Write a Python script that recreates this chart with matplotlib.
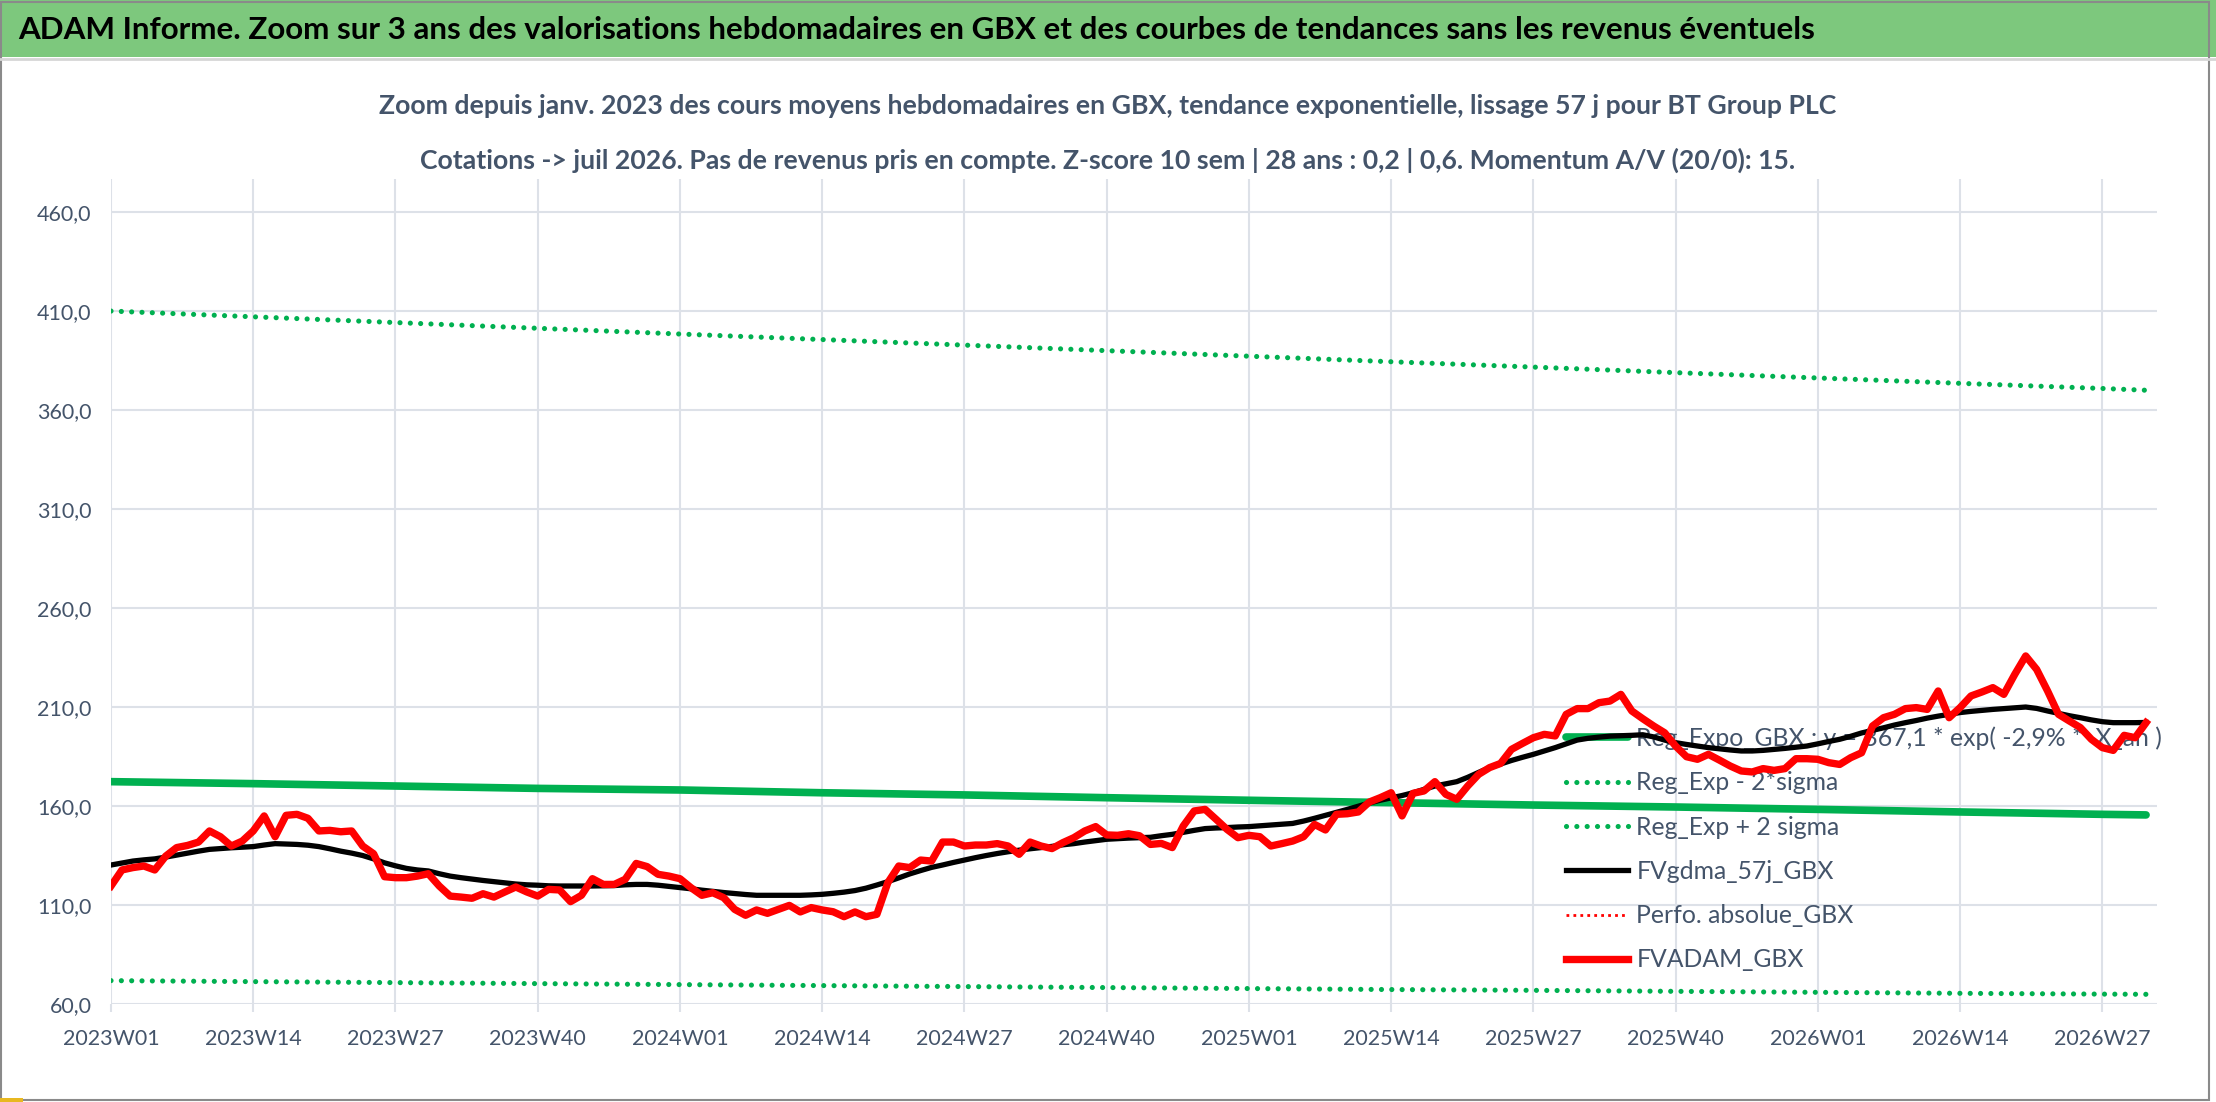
import numpy as np
from matplotlib import pyplot as plt
from matplotlib.lines import Line2D
from matplotlib.patches import Rectangle

# weekly values 2023W01 .. 2026W31
fvadam_gbx = [
    119.6, 127.7, 128.9, 129.7, 127.7, 134.7, 139.0, 140.1, 141.8, 147.4,
    144.5, 139.8, 142.3, 147.4, 155.0, 144.5, 155.3, 155.8, 153.8, 147.4,
    147.7, 147.0, 147.4, 139.8, 135.9, 124.3, 123.8, 123.8, 124.6, 125.8,
    119.6, 114.5, 114.0, 113.4, 115.7, 114.0, 116.6, 119.1, 116.6, 114.5,
    117.9, 117.6, 111.7, 114.9, 123.3, 120.4, 120.4, 123.0, 131.0, 129.4,
    125.5, 124.6, 123.3, 118.8, 114.9, 116.2, 113.7, 107.8, 104.8, 107.5,
    105.8, 107.8, 109.8, 106.5, 108.7, 107.5, 106.6, 104.1, 106.5, 104.1,
    105.3, 121.3, 129.7, 128.9, 132.7, 132.2, 141.8, 141.8, 139.8, 140.3,
    140.3, 141.0, 139.8, 135.6, 141.8, 139.8, 138.5, 141.5, 144.0, 147.4,
    149.6, 145.4, 145.2, 146.0, 145.0, 140.6, 141.1, 139.0, 149.9, 157.5,
    158.3, 153.3, 148.2, 144.0, 145.2, 144.5, 139.8, 141.0, 142.3, 144.5,
    150.7, 147.9, 155.8, 156.1, 157.0, 162.0, 164.2, 166.7, 155.0, 166.4,
    167.6, 172.3, 165.9, 163.4, 170.1, 176.0, 179.4, 181.5, 188.6, 191.6,
    194.5, 196.2, 195.4, 206.3, 209.2, 209.2, 212.2, 213.0, 216.4, 208.0,
    204.1, 200.4, 197.0, 190.3, 184.9, 183.6, 186.1, 183.2, 180.2, 177.7,
    177.2, 178.9, 178.0, 178.9, 183.9, 183.9, 183.6, 181.9, 181.0, 184.4,
    186.9, 200.4, 204.6, 206.3, 209.2, 209.7, 208.8, 218.1, 204.6, 209.7,
    215.6, 217.6, 219.8, 216.4, 226.5, 235.8, 229.0, 218.1, 206.3, 202.9,
    199.6, 193.7, 189.5, 188.1, 195.7, 194.5, 202.1,
]

fvgdma_57j_gbx = [
    130.2, 131.2, 132.2, 132.8, 133.3, 134.2, 135.2, 136.2, 137.2, 138.1,
    138.5, 138.9, 139.2, 139.5, 140.3, 141.0, 140.8, 140.6, 140.2, 139.5,
    138.4, 137.2, 136.2, 135.0, 133.3, 131.3, 129.8, 128.5, 127.7, 127.2,
    125.8, 124.6, 123.8, 123.1, 122.4, 121.8, 121.2, 120.6, 120.2, 120.0,
    119.7, 119.6, 119.6, 119.6, 119.6, 119.7, 119.8, 120.2, 120.4, 120.4,
    120.0, 119.4, 118.8, 118.2, 117.5, 116.9, 116.3, 115.8, 115.3, 114.9,
    114.9, 114.9, 114.9, 114.9, 115.1, 115.4, 115.9, 116.5, 117.3, 118.5,
    120.1, 121.8, 123.7, 125.7, 127.4, 129.0, 130.2, 131.5, 132.7, 133.9,
    135.0, 136.0, 136.9, 137.7, 138.4, 139.0, 139.6, 140.4, 141.0, 141.8,
    142.5, 143.2, 143.5, 143.8, 144.0, 144.2, 145.0, 145.7, 146.7, 147.7,
    148.6, 148.9, 149.1, 149.4, 149.6, 150.0, 150.4, 150.8, 151.2, 152.4,
    153.8, 155.3, 156.8, 158.3, 159.9, 161.5, 162.9, 164.1, 165.3, 166.7,
    168.4, 170.1, 171.2, 172.3, 174.5, 177.0, 179.4, 181.2, 183.0, 184.6,
    186.1, 187.8, 189.5, 191.4, 193.3, 194.2, 194.8, 195.3, 195.5, 195.7,
    196.0, 194.9, 193.3, 192.0, 191.1, 190.3, 189.5, 188.9, 188.3, 187.8,
    187.8, 188.1, 188.6, 189.1, 189.7, 190.3, 191.4, 192.6, 193.7, 195.2,
    196.9, 198.2, 199.5, 200.9, 202.1, 203.2, 204.4, 205.4, 206.3, 207.2,
    207.8, 208.3, 208.8, 209.2, 209.6, 210.0, 209.3, 208.0, 206.8, 205.6,
    204.6, 203.5, 202.6, 202.1, 202.1, 202.1, 202.2,
]

# trend curves read at the quarterly grid lines and at the last week
trend_weeks = [0, 13, 26, 39, 52, 65, 78, 91, 104, 117, 130, 143, 156, 169, 182, 186]
reg_expo_gbx = [172.3, 171.3, 170.1, 168.9, 168.1, 166.7, 165.6, 164.2,
                162.9, 161.7, 160.5, 159.5, 158.3, 157.0, 155.8, 155.5]
reg_exp_plus_2sigma = [410.0, 407.1, 404.2, 401.3, 398.4, 395.6, 392.8, 390.0,
                       387.2, 384.4, 381.7, 378.9, 376.2, 373.5, 370.9, 370.0]
reg_exp_minus_2sigma = [71.8, 71.3, 70.8, 70.3, 69.8, 69.3, 68.8, 68.3,
                        67.8, 67.3, 66.9, 66.4, 65.9, 65.4, 65.0, 64.9]

tick_labels = ["2023W01", "2023W14", "2023W27", "2023W40", "2024W01", "2024W14",
               "2024W27", "2024W40", "2025W01", "2025W14", "2025W27", "2025W40",
               "2026W01", "2026W14", "2026W27"]

title = ("ADAM Informe. Zoom sur 3 ans des valorisations hebdomadaires en GBX "
         "et des courbes de tendances sans les revenus éventuels")
subtitle_1 = ("Zoom depuis janv. 2023 des cours moyens hebdomadaires en GBX, "
              "tendance exponentielle, lissage 57 j pour BT Group PLC")
subtitle_2 = ("Cotations -> juil 2026. Pas de revenus pris en compte. "
              "Z-score 10 sem | 28 ans : 0,2 | 0,6. Momentum A/V (20/0): 15.")

plt.rcParams["font.family"] = ["Lato", "DejaVu Sans"]
TXT = "#44546A"
GRID = "#dde1e8"
GREEN = "#00b050"
W, H = 2216, 1102

fig = plt.figure(figsize=(W / 100, H / 100), dpi=100)

# header band and frame
fig.add_artist(Rectangle((0, 1 - 57 / H), 1, 57 / H, transform=fig.transFigure,
                         facecolor="#7dc87d", edgecolor="none", zorder=0))
fig.add_artist(Line2D([0, 1], [1 - 59 / H] * 2, color="#d6d6d6", lw=2))
fig.add_artist(Rectangle((0.0005, 0.002), 0.9965, 0.996, transform=fig.transFigure,
                         fill=False, edgecolor="#8a8a8a", lw=1.5))
fig.add_artist(Rectangle((0, 0), 23 / W, 4 / H, transform=fig.transFigure,
                         facecolor="#e8b820", edgecolor="none"))

fig.text(18 / W, 1 - 30 / H, title, fontsize=22.6, fontweight="bold",
         color="black", ha="left", va="center")
fig.text(0.5, 1 - 106 / H, subtitle_1, fontsize=19.2, fontweight="bold",
         color=TXT, ha="center", va="center")
fig.text(0.5, 1 - 160 / H, subtitle_2, fontsize=19.2, fontweight="bold",
         color=TXT, ha="center", va="center")

ax = fig.add_axes([111 / W, 98 / H, (2157 - 111) / W, (1004 - 179) / H])
weeks = np.arange(len(fvadam_gbx))

ax.plot(trend_weeks, reg_expo_gbx, color=GREEN, lw=5.5, solid_capstyle="round",
        label="Reg_Expo_GBX : y = 367,1 * exp( -2,9% *  X_an )")
ax.plot(trend_weeks, reg_exp_minus_2sigma, color=GREEN, lw=3.7,
        ls=(0, (0.01, 2.0)), dash_capstyle="round", label="Reg_Exp - 2*sigma")
ax.plot(trend_weeks, reg_exp_plus_2sigma, color=GREEN, lw=3.7,
        ls=(0, (0.01, 2.0)), dash_capstyle="round", label="Reg_Exp + 2 sigma")
ax.plot(weeks, fvgdma_57j_gbx, color="black", lw=3.8, label="FVgdma_57j_GBX")
ax.plot([], [], color="#ff0000", lw=2.0, ls=(0, (1.0, 1.5)),
        label="Perfo. absolue_GBX")
ax.plot(weeks, fvadam_gbx, color="#ff0000", lw=5.3, solid_joinstyle="round",
        label="FVADAM_GBX")

ax.set_xlim(0, 187)
ax.set_ylim(60, 476.7)
ax.set_xticks(np.arange(0, 183, 13))
ax.set_xticklabels(tick_labels)
yt = np.arange(60, 461, 50)
ax.set_yticks(yt)
ax.set_yticklabels([f"{v:.1f}".replace(".", ",") for v in yt])

ax.grid(True, color=GRID, lw=1.5)
ax.set_axisbelow(True)
for s in ax.spines.values():
    s.set_visible(False)
ax.tick_params(axis="x", length=6, width=1.5, color=GRID, pad=12,
               labelsize=15.5, labelcolor=TXT)
ax.tick_params(axis="y", length=0, pad=14, labelsize=15.5, labelcolor=TXT)

leg = ax.legend(loc="center left", bbox_to_anchor=(1566 / W, 1 - 849 / H),
                bbox_transform=fig.transFigure, frameon=False, fontsize=17.8,
                handlelength=2.5, handletextpad=0.35, labelspacing=0.86,
                borderpad=0, borderaxespad=0, labelcolor=TXT)
leg.set_zorder(1.5)

fig.savefig("out.png", dpi=100)
plt.close(fig)
